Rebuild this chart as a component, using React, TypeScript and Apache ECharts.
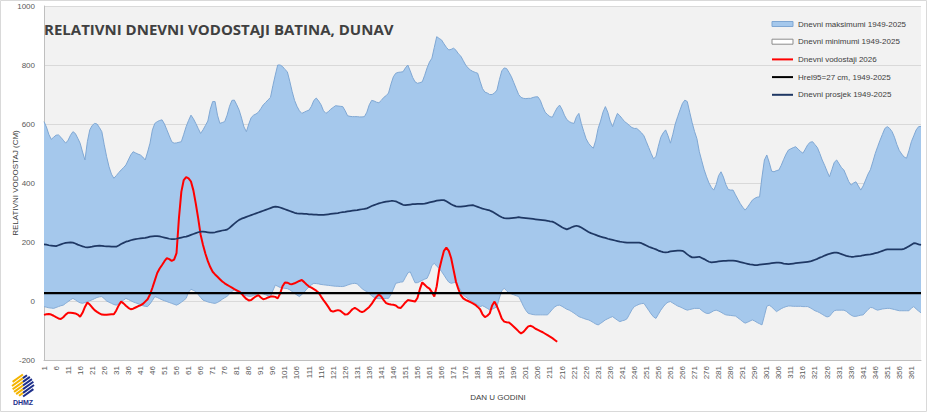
import React, { useEffect, useRef } from 'react';
import * as echarts from 'echarts';

const TITLE = 'RELATIVNI DNEVNI VODOSTAJI BATINA, DUNAV';
const Y_NAME = 'RELATIVNI VODOSTAJ (CM)';
const X_NAME = 'DAN U GODINI';
const MAX_NAME = 'Dnevni maksimumi 1949-2025';
const MIN_NAME = 'Dnevni minimumi 1949-2025';
const RED_NAME = 'Dnevni vodostaji 2026';
const HREL_NAME = 'Hrel95=27 cm, 1949-2025';
const MEAN_NAME = 'Dnevni prosjek 1949-2025';

const HREL95 = 27;
const Y_MIN = -200;
const Y_MAX = 1000;
const Y_STEP = 200;

const DAYS: string[] = Array.from({ length: 365 }, (_, i) => String(i + 1));

const MAX = [
  608, 590, 565, 548, 555, 562, 563, 555, 545, 535,
  545, 562, 574, 568, 552, 535, 505, 478, 540, 580,
  595, 602, 600, 588, 574, 530, 489, 455, 430, 416,
  425, 435, 444, 452, 461, 478, 495, 506, 502, 498,
  495, 488, 478, 505, 535, 580, 602, 608, 612, 614,
  600, 580, 560, 540, 535, 536, 538, 540, 565, 591,
  612, 630, 618, 602, 585, 568, 580, 595, 610, 650,
  676, 676, 630, 602, 605, 608, 630, 660, 680, 681,
  665, 647, 620, 590, 574, 600, 622, 630, 634, 640,
  652, 665, 673, 682, 690, 730, 766, 800, 800, 795,
  785, 777, 745, 710, 680, 660, 645, 636, 640, 644,
  647, 660, 680, 688, 678, 665, 645, 636, 642, 650,
  656, 662, 661, 660, 659, 645, 628, 626, 625, 625,
  625, 624, 624, 625, 640, 665, 680, 678, 674, 672,
  680, 690, 696, 705, 735, 760, 772, 775, 776, 777,
  790, 800, 780, 758, 743, 738, 740, 743, 765, 790,
  810, 823, 860, 896, 890, 885, 872, 860, 851, 853,
  857, 850, 838, 830, 815, 800, 790, 783, 778, 775,
  772, 745, 720, 708, 705, 700, 700, 705, 715, 750,
  780, 790, 788, 775, 760, 740, 720, 700, 690, 687,
  686, 687, 687, 690, 692, 692, 680, 658, 640, 632,
  625, 623, 640, 655, 664, 650, 630, 615, 608, 604,
  602, 625, 636, 602, 575, 550, 535, 525, 518, 545,
  585, 610, 640, 659, 640, 610, 591, 615, 636, 628,
  618, 608, 602, 595, 588, 585, 585, 578, 570, 560,
  540, 520, 500, 482, 490, 525, 555, 570, 580, 560,
  535, 565, 600, 625, 648, 670, 681, 676, 640, 605,
  575, 550, 506, 475, 445, 421, 400, 385, 376, 395,
  425, 438, 420, 395, 378, 376, 376, 360, 345, 330,
  318, 308, 318, 330, 342, 348, 352, 353, 420, 478,
  495, 470, 440, 438, 442, 444, 460, 480, 498, 512,
  516, 520, 523, 515, 507, 501, 515, 530, 538, 540,
  530, 520, 500, 478, 460, 440, 421, 445, 470, 478,
  465, 452, 444, 425, 405, 393, 400, 404, 390, 376,
  390, 410, 430, 445, 472, 500, 523, 545, 565, 585,
  591, 585, 574, 555, 530, 510, 498, 488, 484, 510,
  540, 560, 580, 591, 592,
];

const MIN = [
  -19, -21, -23, -24, -25, -22, -19, -16, -14, -8,
  -2, 4, 9, 4, -2, -6, -8, -5, -2, 1,
  4, 8, 12, 14, 15, 8, 0, -4, -8, -12,
  -14, -9, -3, 3, 9, 5, 1, -3, -6, -9,
  -13, -16, -18, -19, -10, 2, 15, 12, 8, 4,
  1, -2, -5, -8, -11, -14, -10, -4, 2, 9,
  30, 40, 36, 32, 22, 12, 3, 0, -3, -5,
  -7, -8, -5, 0, 6, 11, 16, 24, 33, 37,
  32, 26, 23, 20, 18, 16, 16, 19, 22, 25,
  26, 24, 21, 18, 15, 35, 54, 50, 46, 44,
  43, 42, 38, 32, 26, 20, 15, 22, 30, 40,
  48, 55, 60, 59, 58, 56, 55, 54, 53, 52,
  51, 50, 50, 49, 49, 51, 54, 57, 59, 60,
  58, 50, 42, 36, 32, 25, 18, 12, 9, 8,
  8, 8, 9, 9, 22, 40, 60, 62, 64, 65,
  80, 95, 99, 80, 62, 62, 66, 70, 74, 77,
  95, 120, 128, 118, 111, 100, 88, 75, 64, 60,
  62, 65, 50, 35, 20, 14, 8, 2, -2, -8,
  -14, -19, -16, -20, -25, -30, -28, -24, -19, 10,
  35, 43, 35, 27, 24, 21, 18, 15, 0, -18,
  -32, -42, -44, -46, -47, -47, -47, -47, -47, -47,
  -38, -28, -20, -15, -14, -18, -23, -28, -31, -36,
  -41, -47, -53, -56, -59, -62, -64, -68, -73, -78,
  -81, -76, -70, -64, -60, -56, -53, -59, -65, -70,
  -67, -65, -60, -45, -30, -19, -15, -11, -9, -8,
  -20, -32, -44, -54, -59, -45, -31, -20, -10, -4,
  -2, -7, -12, -17, -20, -24, -28, -31, -29, -27,
  -25, -25, -25, -32, -38, -42, -42, -38, -33, -31,
  -34, -38, -43, -47, -48, -49, -50, -51, -57, -63,
  -70, -75, -72, -68, -64, -68, -73, -77, -81, -50,
  -18, -14, -20, -28, -36, -31, -26, -22, -19, -17,
  -17, -18, -18, -18, -18, -19, -19, -19, -23, -28,
  -33, -36, -40, -45, -50, -54, -52, -42, -33, -31,
  -31, -31, -31, -35, -42, -48, -52, -52, -50, -48,
  -47, -38, -29, -22, -23, -28, -31, -29, -27, -26,
  -25, -25, -27, -29, -31, -33, -33, -33, -33, -33,
  -24, -19, -27, -34, -40,
];

const MEAN = [
  192, 191, 189, 188, 187, 186, 189, 192, 195, 197,
  198, 199, 198, 195, 191, 188, 185, 183, 182, 183,
  184, 186, 187, 188, 187, 186, 185, 185, 184, 184,
  184, 188, 193, 197, 201, 203, 206, 208, 210, 211,
  212, 213, 214, 216, 218, 219, 220, 220, 219, 217,
  215, 213, 211, 210, 210, 211, 213, 215, 217, 218,
  221, 224, 227, 230, 233, 235, 235, 234, 233, 232,
  232, 233, 235, 237, 239, 240, 242, 248, 255, 262,
  269, 275, 279, 282, 285, 288, 291, 294, 297, 300,
  303, 306, 309, 312, 315, 318, 320, 319, 317, 314,
  311, 308, 305, 302, 299, 297, 296, 296, 295, 295,
  294, 294, 293, 293, 292, 292, 292, 293, 294, 295,
  296, 297, 298, 300, 301, 302, 304, 305, 306, 307,
  308, 310, 311, 312, 314, 318, 322, 325, 328, 331,
  333, 335, 337, 338, 339, 339, 338, 334, 330, 326,
  325, 326, 327, 328, 328, 329, 329, 329, 330, 332,
  334, 336, 338, 340, 341, 342, 342, 338, 333, 328,
  324, 321, 320, 320, 321, 322, 323, 324, 325, 322,
  319, 316, 313, 311, 309, 307, 303, 298, 293, 288,
  284, 281, 280, 280, 281, 282, 283, 284, 283, 282,
  281, 280, 279, 278, 277, 276, 275, 274, 273, 272,
  270, 269, 265, 260, 255, 250, 246, 243, 246, 250,
  253, 255, 253, 249, 244, 239, 234, 230, 227, 224,
  221, 218, 216, 214, 211, 209, 207, 205, 203, 201,
  200, 199, 198, 198, 198, 198, 198, 198, 196, 192,
  188, 184, 181, 178, 175, 171, 168, 166, 165, 166,
  168, 169, 170, 171, 171, 170, 165, 158, 152, 148,
  148, 149, 150, 146, 142, 137, 133, 131, 132, 133,
  134, 135, 136, 136, 137, 137, 137, 136, 134, 132,
  130, 128, 126, 124, 123, 122, 122, 123, 124, 125,
  126, 127, 128, 129, 130, 130, 129, 127, 126, 125,
  126, 127, 128, 129, 130, 131, 132, 133, 134, 137,
  140, 143, 147, 150, 154, 157, 160, 162, 164, 164,
  162, 159, 156, 153, 151, 150, 150, 151, 152, 153,
  155, 156, 157, 158, 160, 162, 164, 167, 170, 173,
  175, 175, 175, 175, 175, 175, 175, 177, 181, 186,
  191, 196, 195, 192, 190,
];

const Y2026 = [
  -47, -45, -44, -46, -50, -55, -59, -61, -55, -46,
  -40, -40, -41, -42, -46, -53, -40, -20, -5, -12,
  -22, -31, -37, -42, -46, -47, -47, -46, -45, -45,
  -32, -15, -2, -8, -16, -23, -28, -26, -22, -18,
  -15, -10, -2, 6, 22, 45, 70, 95, 110, 122,
  135, 145, 142, 136, 140, 162, 280, 370, 410, 420,
  416, 405, 375, 330, 280, 225, 190, 160, 135, 115,
  99, 90, 82, 74, 66, 60, 55, 50, 45, 40,
  36, 32, 25, 15, 7, 2, 3, 10, 16, 20,
  12, 6, 8, 12, 15, 15, 14, 9, 25, 50,
  63, 62, 58, 57, 60, 64, 68, 71, 64, 56,
  49, 45, 40, 35, 28, 15, 3, -8, -20, -33,
  -36, -33, -31, -33, -40, -46, -45, -37, -28, -23,
  -28, -34, -38, -34, -27, -20, -10, 3, 14, 22,
  15, 3, -7, -10, -12, -13, -15, -22, -24, -15,
  -5, 3, 2, 0, -2, 10, 40, 63, 55, 47,
  42, 30, 15, 50, 105, 139, 170, 181, 170, 145,
  105, 65, 40, 20, 9, 4, 0, -4, -8, -13,
  -20, -28, -45, -55, -50, -42, -15, -2, -18, -38,
  -60, -70, -72, -73, -80, -87, -95, -103, -110, -105,
  -95, -86, -84, -88, -94, -98, -102, -106, -111, -116,
  -121, -126, -132, -138,
];

function logoElements(): any[] {
  const cx = 23;
  const cy = 385.5;
  const r = 11;
  const dir = [Math.cos(-0.62), Math.sin(-0.62)];
  const nrm = [-dir[1], dir[0]];
  const els: any[] = [];
  for (let k = -9; k <= 9; k += 3) {
    const h = Math.sqrt(r * r - k * k);
    const mx = cx + k * nrm[0];
    const my = cy + k * nrm[1];
    const split = -k * 0.7;
    const a = [mx - dir[0] * h, my - dir[1] * h];
    const s = [mx + dir[0] * split, my + dir[1] * split];
    const b = [mx + dir[0] * h, my + dir[1] * h];
    els.push({ type: 'line', silent: true, shape: { x1: a[0], y1: a[1], x2: s[0], y2: s[1] }, style: { stroke: '#f4b400', lineWidth: 2 } });
    els.push({ type: 'line', silent: true, shape: { x1: s[0], y1: s[1], x2: b[0], y2: b[1] }, style: { stroke: '#1d2f8a', lineWidth: 2 } });
  }
  els.push({
    type: 'text', silent: true, x: 23, y: 402,
    style: { text: 'DHMZ', fill: '#1d2f8a', font: 'bold 7px "Liberation Sans", Arial, sans-serif', align: 'center', verticalAlign: 'middle' },
  });
  return els;
}

export default function App() {
  const ref = useRef<HTMLDivElement>(null);
  useEffect(() => {
    if (!ref.current) return;
    const chart = echarts.init(ref.current, undefined, { renderer: 'svg' });
    const font = '"Liberation Sans", Arial, sans-serif';
    const band = MAX.map((v, i) => v - MIN[i]);
    const hrel = DAYS.map(() => HREL95);
    const lineCommon = { type: 'line', symbol: 'none', silent: true, emphasis: { disabled: true } };
    chart.setOption({
      animation: false,
      backgroundColor: '#ffffff',
      title: {
        text: TITLE, left: 44, top: 21, padding: 0,
        textStyle: { fontFamily: '"Open Sans", sans-serif', fontWeight: 'bold', fontSize: 15, color: '#404040' },
      },
      legend: {
        orient: 'vertical', left: 771, top: 20, padding: 0,
        itemWidth: 21, itemHeight: 5, itemGap: 9.7, selectedMode: false,
        textStyle: { fontSize: 8, color: '#404040', fontFamily: font },
        data: [
          { name: MAX_NAME, icon: 'rect', itemStyle: { color: '#a5c8ec', borderColor: '#7fa7d3', borderWidth: 1 } },
          { name: MIN_NAME, icon: 'rect', itemStyle: { color: '#ffffff', borderColor: '#8c8c8c', borderWidth: 1 } },
          { name: RED_NAME, itemStyle: { opacity: 0 } },
          { name: HREL_NAME, itemStyle: { opacity: 0 } },
          { name: MEAN_NAME, itemStyle: { opacity: 0 } },
        ],
      },
      grid: {
        left: 44, right: 6, top: 6, bottom: 53, show: true, backgroundColor: '#f2f2f2', borderWidth: 0,
        containLabel: false, outerBoundsMode: 'none',
      },
      xAxis: {
        type: 'category', data: DAYS, boundaryGap: false,
        name: X_NAME, nameLocation: 'middle', nameGap: 33, nameMoveOverlap: false,
        nameTextStyle: { fontSize: 8, color: '#404040', fontFamily: font, padding: [0, 0, 0, 31] },
        axisLine: { onZero: false, lineStyle: { color: '#bfbfbf', width: 1 } },
        axisTick: { show: false },
        axisLabel: { interval: 4, rotate: 90, fontSize: 8, color: '#595959', fontFamily: font, margin: 6 },
        splitLine: { show: false },
      },
      yAxis: {
        type: 'value', min: Y_MIN, max: Y_MAX, interval: Y_STEP,
        name: Y_NAME, nameLocation: 'middle', nameGap: 25, nameMoveOverlap: false,
        nameTextStyle: { fontSize: 8, color: '#404040', fontFamily: font },
        axisLine: { show: true, lineStyle: { color: '#bfbfbf', width: 1 } },
        axisTick: { show: false },
        axisLabel: { fontSize: 8, color: '#595959', fontFamily: font, margin: 9, formatter: (v: number) => String(v) },
        splitLine: { show: true, lineStyle: { color: '#d9d9d9', width: 1 } },
      },
      series: [
        { ...lineCommon, name: MIN_NAME, data: MIN, stack: 'band', stackStrategy: 'all', lineStyle: { color: '#86acd6', width: 1 }, itemStyle: { color: '#ffffff' }, z: 2 },
        { ...lineCommon, name: MAX_NAME, data: band, stack: 'band', stackStrategy: 'all', lineStyle: { color: '#7fa7d3', width: 1 }, areaStyle: { color: '#a5c8ec', opacity: 1 }, itemStyle: { color: '#a5c8ec' }, z: 1 },
        { ...lineCommon, name: RED_NAME, data: Y2026, lineStyle: { color: '#ff0000', width: 2 }, itemStyle: { color: '#ff0000' }, z: 4 },
        { ...lineCommon, name: HREL_NAME, data: hrel, lineStyle: { color: '#000000', width: 2.2 }, itemStyle: { color: '#000000' }, z: 5 },
        { ...lineCommon, name: MEAN_NAME, data: MEAN, lineStyle: { color: '#1f3864', width: 1.75 }, itemStyle: { color: '#1f3864' }, z: 6 },
      ],
      graphic: [
        { type: 'rect', silent: true, shape: { x: 0.5, y: 0.5, width: 926, height: 411 }, style: { fill: 'none', stroke: '#d9d9d9', lineWidth: 1 }, z: -1 },
        ...logoElements(),
      ],
    });
    return () => chart.dispose();
  }, []);
  return <div ref={ref} style={{ position: 'absolute', left: 0, top: 0, width: 927, height: 413 }} />;
}
